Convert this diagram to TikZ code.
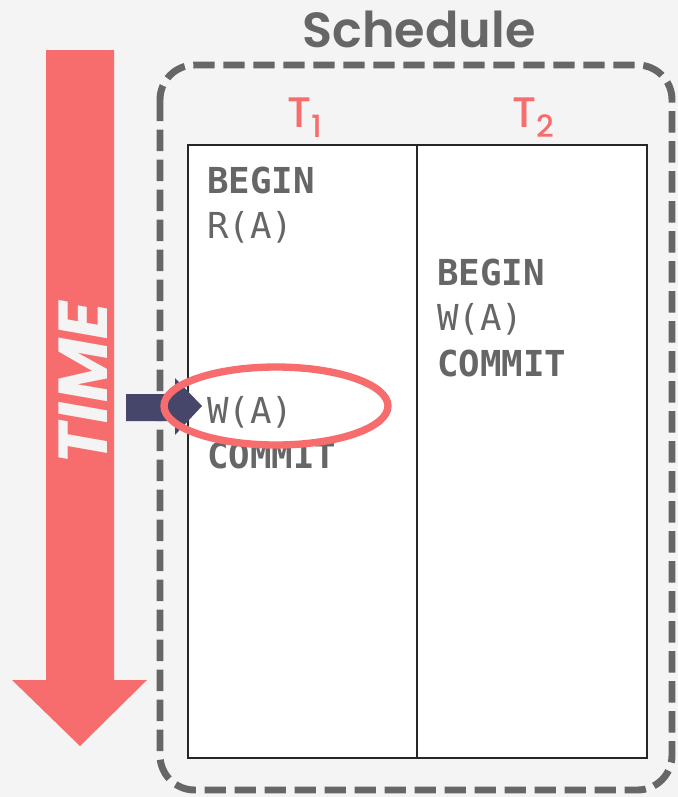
\documentclass[tikz,border=0pt]{standalone}
\usepackage{fontspec}
\setsansfont{Poppins}[BoldFont={* SemiBold},BoldItalicFont={* Bold Italic}]
\newfontfamily\labelfont{Poppins Medium}
\setmonofont{DejaVu Sans Mono}
\definecolor{accent}{HTML}{F76C6C}
\definecolor{ink}{HTML}{666666}
\definecolor{navy}{HTML}{46466A}
\definecolor{paper}{HTML}{F4F4F4}
\newcommand{\txnname}[1]{T\raisebox{-7.5pt}{\fontsize{23}{25}\selectfont #1}}
\begin{document}
\begin{tikzpicture}[x=0.75pt,y=-0.75pt,
  stmt/.style={anchor=base west, inner sep=0pt, text=ink,
    font=\fontsize{26.8}{30}\selectfont\ttfamily},
  kw/.style={stmt, font=\fontsize{26.8}{30}\selectfont\ttfamily\bfseries},
  txn/.style={anchor=base, inner sep=0pt, text=accent,
    font=\fontsize{32}{36}\selectfont\labelfont},
]
% canvas
\fill[paper] (0,0) rectangle (678,797);
\useasboundingbox (0,0) rectangle (678,797);

% time axis
\fill[accent] (46,50) -- (114,50) -- (114,680) -- (147,680) -- (80,746)
  -- (12,680) -- (46,680) -- cycle;
\node[rotate=90, text=paper, inner sep=0pt,
  font=\fontsize{52}{56}\selectfont\sffamily\bfseries\itshape] (time) at (83,383) {TIME};

% schedule frame
\node[text=ink, inner sep=0pt, font=\fontsize{37}{40}\selectfont\sffamily\bfseries]
  (title) at (419,29) {Schedule};
\draw[ink, line width=5.2pt, dash pattern=on 16pt off 6.5pt, rounded corners=26pt]
  (160,65) rectangle (672,790);

% transaction table
\fill[white] (188,145) rectangle (647,758);
\draw[black!85, line width=1.5pt] (188,145) rectangle (647,758);
\draw[black!85, line width=1.5pt] (417,145) -- (417,758);
\node[txn] (t1) at (305,127) {\txnname{1}};
\node[txn] (t2) at (533,127) {\txnname{2}};

% T1 operations
\node[kw]   (b1) at (207,193) {BEGIN};
\node[stmt] (r1) at (207,238) {R(A)};
\node[stmt] (w1) at (207,423) {W(A)};
\node[kw]   (c1) at (207,468) {COMMIT};

% T2 operations
\node[kw]   (b2) at (437,285) {BEGIN};
\node[stmt] (w2) at (437,330) {W(A)};
\node[kw]   (c2) at (437,376) {COMMIT};

% current step marker
\fill[navy] (126,394) -- (175,394) -- (175,378) -- (202,406) -- (175,435)
  -- (175,421) -- (126,421) -- cycle;
\draw[accent, line width=5.5pt] (276,406) ellipse [x radius=112, y radius=39];
\end{tikzpicture}
\end{document}
